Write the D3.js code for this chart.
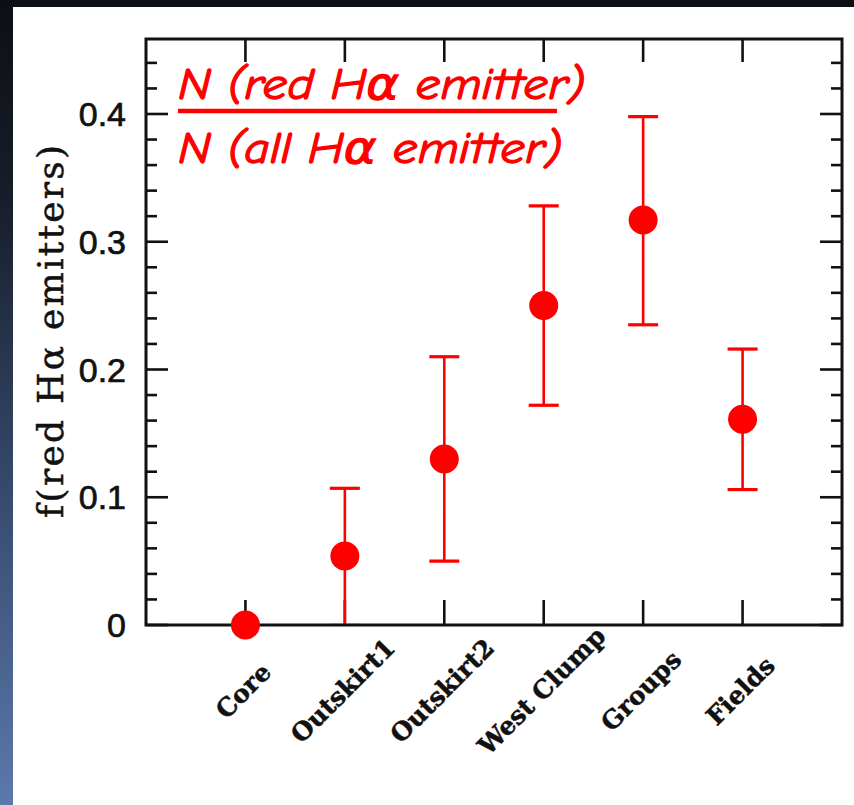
<!DOCTYPE html>
<html>
<head>
<meta charset="utf-8">
<script src="https://cdn.jsdelivr.net/npm/d3@7"></script>
<style>
  html, body { margin: 0; padding: 0; background: #0c0f14; }
  svg { display: block; }
</style>
</head>
<body>
<svg id="chart" width="854" height="805"></svg>
<script>
// Fraction of red Hα emitters per environment
const categories = ["Core", "Outskirt1", "Outskirt2", "West Clump", "Groups", "Fields"];
const fraction   = [0.000, 0.054, 0.130, 0.250, 0.317, 0.161];
const errLow     = [null,  0.000, 0.050, 0.172, 0.235, 0.106];
const errHigh    = [null,  0.107, 0.210, 0.328, 0.398, 0.216];
const yTicks     = [0, 0.1, 0.2, 0.3, 0.4];
const yTickLabels = ["0", "0.1", "0.2", "0.3", "0.4"];
const yMinorTicks = d3.range(0, 0.45, 0.02);

(function () {
const svg = d3.select("#chart");
const W = 854, H = 805;

// slide backdrop: dark at top, blue towards the bottom
const defs = svg.append("defs");
const grad = defs.append("linearGradient").attr("id", "bg").attr("x1", 0).attr("y1", 0).attr("x2", 0).attr("y2", 1);
grad.append("stop").attr("offset", "0%").attr("stop-color", "#0c0f14");
grad.append("stop").attr("offset", "25%").attr("stop-color", "#171e2b");
grad.append("stop").attr("offset", "65%").attr("stop-color", "#3a4f74");
grad.append("stop").attr("offset", "100%").attr("stop-color", "#5b79ab");
svg.append("rect").attr("width", W).attr("height", H).attr("fill", "url(#bg)");

// white panel
svg.append("rect").attr("x", 13).attr("y", 7).attr("width", W - 13).attr("height", H - 7).attr("fill", "#ffffff");

// plot area
const pL = 146, pR = 842, pT = 39, pB = 625;
const x = d3.scaleLinear().domain([0, categories.length + 1]).range([pL, pR]);
const y = d3.scaleLinear().domain([0, 0.4587]).range([pB, pT]);
const xPos = i => x(i + 1);

// error bars stay inside the frame
defs.append("clipPath").attr("id", "inner")
  .append("rect").attr("x", pL).attr("y", pT + 1.6).attr("width", pR - pL).attr("height", pB - pT - 3.2);

const g = svg.append("g");

// frame with ticks on all four sides
const frame = g.append("g").attr("stroke", "#111").attr("fill", "none");
frame.append("rect")
  .attr("x", pL).attr("y", pT).attr("width", pR - pL).attr("height", pB - pT)
  .attr("stroke-width", 3);

const isMajor = v => yTicks.some(t => Math.abs(t - v) < 1e-6);
yMinorTicks.forEach(v => {
  const len = isMajor(v) ? 22 : 11;
  frame.append("line").attr("x1", pL).attr("x2", pL + len).attr("y1", y(v)).attr("y2", y(v)).attr("stroke-width", 2.6);
  frame.append("line").attr("x1", pR).attr("x2", pR - len).attr("y1", y(v)).attr("y2", y(v)).attr("stroke-width", 2.6);
});
categories.forEach((c, i) => {
  const cx = xPos(i);
  frame.append("line").attr("x1", cx).attr("x2", cx).attr("y1", pT).attr("y2", pT + 23).attr("stroke-width", 2.6);
  frame.append("line").attr("x1", cx).attr("x2", cx).attr("y1", pB).attr("y2", pB - 25).attr("stroke-width", 2.6);
});

// error bars
const errG = g.append("g").attr("stroke", "#ff0000").attr("clip-path", "url(#inner)");
categories.forEach((c, i) => {
  if (errLow[i] === null) return;
  const cx = xPos(i);
  errG.append("line")
    .attr("x1", cx).attr("x2", cx)
    .attr("y1", y(errLow[i])).attr("y2", y(errHigh[i]))
    .attr("stroke-width", 2.6);
  [errLow[i], errHigh[i]].forEach(v => {
    errG.append("line")
      .attr("x1", cx - 15).attr("x2", cx + 15)
      .attr("y1", y(v)).attr("y2", y(v))
      .attr("stroke-width", 3.2);
  });
});

// data points
g.append("g").selectAll("circle")
  .data(fraction)
  .join("circle")
  .attr("cx", (d, i) => xPos(i))
  .attr("cy", d => y(d))
  .attr("r", 14.5)
  .attr("fill", "#ff0000");

// y tick labels
g.append("g").selectAll("text")
  .data(yTicks)
  .join("text")
  .attr("x", 126)
  .attr("y", d => y(d))
  .attr("dy", "0.36em")
  .attr("text-anchor", "end")
  .attr("font-family", "'Liberation Sans', Arial, sans-serif")
  .attr("font-size", 34)
  .attr("fill", "#111")
  .attr("stroke", "#111")
  .attr("stroke-width", 0.7)
  .text((d, i) => yTickLabels[i]);

// y axis title
g.append("text")
  .attr("transform", `translate(63, ${(145 + 518) / 2}) rotate(-90)`)
  .attr("text-anchor", "middle")
  .attr("font-family", "'DejaVu Serif', 'Liberation Serif', serif")
  .attr("font-size", 36)
  .attr("textLength", 373)
  .attr("lengthAdjust", "spacing")
  .attr("fill", "#111")
  .attr("stroke", "#111")
  .attr("stroke-width", 0.5)
  .text("f(red Hα emitters)");

// category labels, slanted
g.append("g").selectAll("text")
  .data(categories)
  .join("text")
  .attr("transform", (d, i) => `translate(${xPos(i) - 2}, 691) rotate(-45)`)
  .attr("text-anchor", "middle")
  .attr("dominant-baseline", "central")
  .attr("font-family", "'DejaVu Serif', 'Liberation Serif', serif")
  .attr("font-weight", "bold")
  .attr("font-size", 25)
  .attr("fill", "#111")
  .attr("stroke", "#111")
  .attr("stroke-width", 0.5)
  .text(d => d);

// fraction definition in the corner
const ann = g.append("g").attr("fill", "#ff0000")
  .attr("stroke", "#ff0000").attr("stroke-width", 1.3)
  .attr("font-family", "'Comic Sans MS', 'Comic Neue', 'DejaVu Sans', sans-serif")
  .attr("font-style", "italic")
  .attr("font-size", 45);
ann.append("text").attr("x", 178).attr("y", 99)
  .attr("textLength", 407).attr("lengthAdjust", "spacingAndGlyphs")
  .text("N (red Hα emitter)");
ann.append("line")
  .attr("x1", 178).attr("x2", 557).attr("y1", 111).attr("y2", 111)
  .attr("stroke", "#ff0000").attr("stroke-width", 4.5);
ann.append("text").attr("x", 178).attr("y", 163)
  .attr("textLength", 384).attr("lengthAdjust", "spacingAndGlyphs")
  .text("N (all Hα emitter)");
})();
</script>
</body>
</html>
